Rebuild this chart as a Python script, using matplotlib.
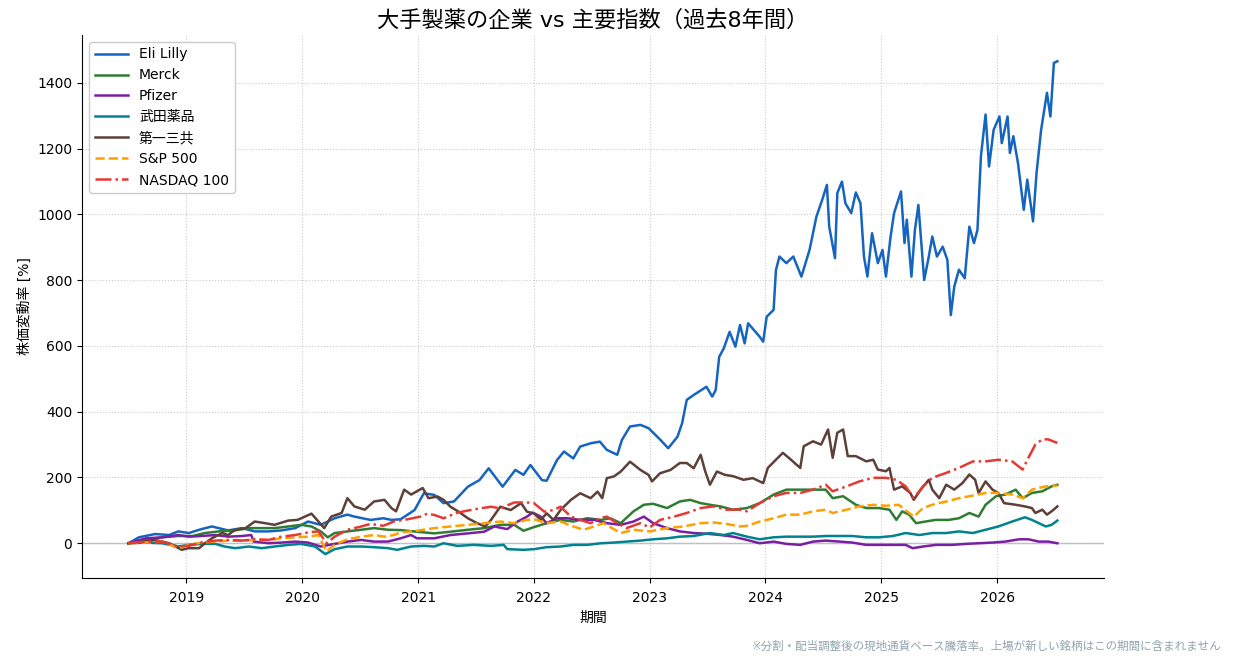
import numpy as np
import pandas as pd
import matplotlib
matplotlib.use('Agg')
import matplotlib.pyplot as plt
import matplotlib.dates as mdates

plt.rcParams['font.family'] = ['DejaVu Sans', 'Noto Sans CJK JP']

# 値は図から読み取った近似値 (x: 年の小数表記, y: 騰落率 %)
lilly_x = [2018.50, 2018.59, 2018.73, 2018.85, 2018.93, 2019.02, 2019.13, 2019.22, 2019.28, 2019.36,
           2019.48, 2019.59, 2019.71, 2019.82, 2019.94, 2020.05, 2020.16, 2020.28, 2020.39, 2020.45,
           2020.59, 2020.70, 2020.77, 2020.85, 2020.97, 2021.05, 2021.14, 2021.22, 2021.31, 2021.43,
           2021.53, 2021.61, 2021.73, 2021.84, 2021.91, 2021.97, 2022.07, 2022.11, 2022.20, 2022.26,
           2022.34, 2022.40, 2022.49, 2022.57, 2022.63, 2022.72, 2022.76, 2022.83, 2022.92, 2022.99,
           2023.08, 2023.16, 2023.24, 2023.28, 2023.32, 2023.38, 2023.49, 2023.54, 2023.57, 2023.60,
           2023.64, 2023.69, 2023.74, 2023.78, 2023.82, 2023.85, 2023.95, 2023.98, 2024.01, 2024.07,
           2024.09, 2024.12, 2024.18, 2024.24, 2024.31, 2024.38, 2024.44, 2024.49, 2024.53, 2024.55,
           2024.60, 2024.62, 2024.66, 2024.69, 2024.74, 2024.78, 2024.82, 2024.85, 2024.88, 2024.92,
           2024.97, 2025.01, 2025.04, 2025.08, 2025.11, 2025.17, 2025.20, 2025.22, 2025.26, 2025.29,
           2025.32, 2025.37, 2025.41, 2025.44, 2025.48, 2025.53, 2025.57, 2025.60, 2025.63, 2025.67,
           2025.72, 2025.76, 2025.80, 2025.83, 2025.86, 2025.90, 2025.93, 2025.97, 2026.02, 2026.04,
           2026.09, 2026.11, 2026.14, 2026.18, 2026.23, 2026.26, 2026.31, 2026.34, 2026.38, 2026.43,
           2026.46, 2026.49, 2026.52]
lilly_y = [0, 18, 28, 25, 36, 31, 43, 51, 46, 39,
           46, 36, 36, 39, 46, 66, 56, 76, 87, 81,
           71, 76, 71, 73, 101, 152, 147, 122, 127, 172,
           192, 228, 172, 223, 208, 238, 192, 190, 253, 279,
           258, 294, 304, 309, 284, 269, 314, 355, 360, 350,
           319, 289, 324, 365, 436, 451, 476, 446, 466, 567,
           593, 643, 598, 664, 608, 669, 628, 613, 689, 710,
           831, 872, 852, 872, 811, 892, 994, 1045, 1090, 963,
           867, 1065, 1100, 1034, 1004, 1067, 1034, 872, 811, 943,
           852, 892, 811, 933, 1004, 1070, 913, 984, 811, 953,
           1029, 801, 872, 933, 872, 902, 862, 694, 781, 832,
           806, 963, 913, 953, 1177, 1304, 1146, 1258, 1298, 1217,
           1298, 1187, 1238, 1156, 1014, 1106, 979, 1126, 1258, 1370,
           1298, 1461, 1466]

merck_x = [2018.50, 2018.65, 2018.79, 2018.93, 2019.05, 2019.16, 2019.28, 2019.42, 2019.54, 2019.65,
           2019.76, 2019.88, 2019.99, 2020.08, 2020.16, 2020.22, 2020.28, 2020.39, 2020.51, 2020.62,
           2020.74, 2020.85, 2020.99, 2021.14, 2021.28, 2021.43, 2021.57, 2021.71, 2021.83, 2021.91,
           2022.00, 2022.11, 2022.23, 2022.34, 2022.46, 2022.58, 2022.66, 2022.75, 2022.86, 2022.95,
           2023.03, 2023.15, 2023.26, 2023.35, 2023.44, 2023.52, 2023.61, 2023.72, 2023.84, 2023.95,
           2024.07, 2024.18, 2024.30, 2024.41, 2024.52, 2024.58, 2024.67, 2024.78, 2024.87, 2024.98,
           2025.07, 2025.13, 2025.18, 2025.24, 2025.30, 2025.38, 2025.47, 2025.58, 2025.67, 2025.76,
           2025.84, 2025.90, 2025.99, 2026.07, 2026.16, 2026.22, 2026.30, 2026.39, 2026.47, 2026.52]
merck_y = [0, 10, 18, 22, 22, 31, 36, 39, 46, 46,
           46, 51, 56, 51, 36, 18, 31, 36, 41, 46,
           41, 40, 35, 30, 35, 41, 46, 56, 56, 38,
           49, 61, 71, 66, 76, 71, 76, 61, 97, 117,
           120, 107, 127, 132, 122, 117, 112, 102, 107, 122,
           148, 163, 163, 163, 163, 137, 143, 117, 107, 107,
           102, 71, 97, 87, 61, 66, 71, 71, 76, 92,
           81, 117, 143, 148, 163, 137, 153, 158, 173, 178]

pfizer_x = [2018.50, 2018.65, 2018.79, 2018.93, 2019.02, 2019.13, 2019.25, 2019.36, 2019.48, 2019.56,
            2019.58, 2019.71, 2019.82, 2019.94, 2020.05, 2020.16, 2020.28, 2020.39, 2020.51, 2020.62,
            2020.74, 2020.85, 2020.94, 2020.99, 2021.14, 2021.28, 2021.43, 2021.57, 2021.66, 2021.77,
            2021.86, 2021.94, 2021.99, 2022.06, 2022.11, 2022.20, 2022.29, 2022.40, 2022.52, 2022.63,
            2022.75, 2022.86, 2022.95, 2023.03, 2023.15, 2023.26, 2023.38, 2023.49, 2023.61, 2023.72,
            2023.84, 2023.95, 2024.07, 2024.18, 2024.30, 2024.41, 2024.52, 2024.64, 2024.75, 2024.87,
            2024.98, 2025.10, 2025.21, 2025.27, 2025.36, 2025.47, 2025.61, 2025.73, 2025.84, 2025.96,
            2026.07, 2026.19, 2026.27, 2026.36, 2026.44, 2026.52]
pfizer_y = [0, 15, 18, 25, 20, 22, 25, 20, 22, 25,
            5, 0, 2, 5, 2, -10, -2, 5, 10, 5,
            5, 15, 25, 15, 15, 25, 30, 35, 51, 43,
            66, 81, 93, 81, 61, 76, 76, 71, 71, 61,
            56, 66, 81, 61, 46, 36, 31, 29, 25, 20,
            10, 0, 5, -2, -5, 5, 8, 5, 2, -5,
            -5, -5, -5, -15, -10, -5, -5, -2, 0, 2,
            5, 12, 12, 5, 5, 0]

takeda_x = [2018.50, 2018.65, 2018.79, 2018.93, 2019.02, 2019.13, 2019.25, 2019.33, 2019.42, 2019.54,
            2019.65, 2019.76, 2019.88, 2019.99, 2020.11, 2020.20, 2020.28, 2020.39, 2020.51, 2020.62,
            2020.74, 2020.82, 2020.94, 2021.05, 2021.14, 2021.22, 2021.34, 2021.48, 2021.63, 2021.74,
            2021.77, 2021.91, 2022.00, 2022.11, 2022.23, 2022.34, 2022.46, 2022.58, 2022.69, 2022.80,
            2022.92, 2023.03, 2023.15, 2023.26, 2023.38, 2023.52, 2023.64, 2023.72, 2023.84, 2023.95,
            2024.07, 2024.18, 2024.30, 2024.41, 2024.52, 2024.64, 2024.75, 2024.87, 2024.98, 2025.10,
            2025.21, 2025.33, 2025.44, 2025.56, 2025.67, 2025.79, 2025.90, 2026.01, 2026.13, 2026.24,
            2026.30, 2026.42, 2026.47, 2026.52]
takeda_y = [0, 2, 0, -10, -5, -2, -2, -10, -15, -10,
            -15, -10, -5, -2, -10, -33, -18, -10, -10, -12,
            -15, -20, -10, -8, -10, 0, -8, -5, -8, -5,
            -18, -20, -18, -12, -10, -5, -5, 0, 2, 5,
            8, 12, 15, 20, 22, 31, 25, 31, 20, 12,
            18, 20, 20, 20, 22, 22, 22, 18, 18, 22,
            31, 25, 31, 31, 36, 31, 41, 51, 66, 79,
            71, 51, 56, 69]

daiichi_x = [2018.50, 2018.62, 2018.73, 2018.85, 2018.96, 2019.02, 2019.11, 2019.16, 2019.22, 2019.31,
             2019.36, 2019.42, 2019.51, 2019.59, 2019.68, 2019.76, 2019.88, 2019.96, 2020.08, 2020.14,
             2020.19, 2020.25, 2020.34, 2020.39, 2020.45, 2020.54, 2020.62, 2020.71, 2020.77, 2020.81,
             2020.88, 2020.94, 2021.04, 2021.09, 2021.17, 2021.22, 2021.28, 2021.35, 2021.43, 2021.51,
             2021.58, 2021.63, 2021.71, 2021.80, 2021.89, 2021.94, 2022.00, 2022.06, 2022.11, 2022.17,
             2022.23, 2022.32, 2022.40, 2022.49, 2022.55, 2022.59, 2022.63, 2022.69, 2022.75, 2022.83,
             2022.92, 2022.99, 2023.02, 2023.09, 2023.18, 2023.26, 2023.32, 2023.38, 2023.44, 2023.48,
             2023.52, 2023.58, 2023.65, 2023.72, 2023.81, 2023.89, 2023.98, 2024.02, 2024.09, 2024.15,
             2024.22, 2024.30, 2024.33, 2024.41, 2024.48, 2024.54, 2024.58, 2024.62, 2024.67, 2024.71,
             2024.78, 2024.87, 2024.93, 2024.97, 2025.04, 2025.07, 2025.11, 2025.18, 2025.25, 2025.28,
             2025.34, 2025.41, 2025.44, 2025.50, 2025.56, 2025.63, 2025.70, 2025.76, 2025.81, 2025.84,
             2025.90, 2025.96, 2026.01, 2026.06, 2026.16, 2026.24, 2026.30, 2026.33, 2026.39, 2026.43,
             2026.47, 2026.52]
daiichi_y = [0, 5, 10, 0, -20, -15, -15, 0, 15, 31,
             25, 41, 46, 66, 61, 56, 69, 71, 90, 66,
             46, 81, 92, 137, 112, 102, 127, 132, 107, 97,
             163, 148, 168, 137, 142, 132, 111, 96, 76, 61,
             51, 71, 111, 101, 122, 96, 91, 71, 91, 71,
             101, 132, 152, 137, 157, 137, 198, 203, 218, 248,
             223, 208, 188, 213, 223, 244, 244, 228, 269, 218,
             178, 218, 208, 204, 193, 198, 183, 229, 254, 275,
             254, 229, 295, 310, 300, 346, 260, 336, 346, 265,
             265, 249, 254, 224, 219, 229, 163, 173, 153, 132,
             163, 193, 163, 137, 178, 163, 183, 209, 193, 153,
             188, 163, 153, 122, 117, 112, 107, 92, 102, 87,
             97, 112]

sp500_x = [2018.50, 2018.65, 2018.79, 2018.93, 2019.02, 2019.13, 2019.25, 2019.36, 2019.48, 2019.59,
           2019.71, 2019.82, 2019.94, 2020.05, 2020.14, 2020.21, 2020.28, 2020.39, 2020.51, 2020.62,
           2020.71, 2020.79, 2020.85, 2020.99, 2021.14, 2021.28, 2021.43, 2021.57, 2021.71, 2021.83,
           2021.94, 2022.00, 2022.11, 2022.23, 2022.34, 2022.43, 2022.52, 2022.60, 2022.75, 2022.86,
           2023.00, 2023.15, 2023.29, 2023.44, 2023.55, 2023.66, 2023.78, 2023.84, 2023.95, 2024.07,
           2024.18, 2024.30, 2024.41, 2024.52, 2024.58, 2024.70, 2024.81, 2024.93, 2025.04, 2025.15,
           2025.24, 2025.28, 2025.36, 2025.44, 2025.56, 2025.67, 2025.79, 2025.90, 2026.01, 2026.13,
           2026.22, 2026.30, 2026.42, 2026.52]
sp500_y = [0, 2, 5, -15, -5, 2, 5, 8, 8, 10,
           10, 15, 18, 20, 25, -25, -5, 12, 20, 25,
           20, 25, 33, 38, 46, 51, 56, 61, 66, 61,
           71, 73, 61, 66, 51, 41, 51, 61, 31, 41,
           36, 46, 51, 61, 63, 59, 51, 53, 66, 76,
           87, 87, 97, 102, 92, 102, 112, 117, 114, 117,
           92, 81, 107, 117, 127, 137, 145, 153, 153, 148,
           137, 163, 173, 175]

nasdaq_x = [2018.50, 2018.65, 2018.79, 2018.93, 2019.02, 2019.13, 2019.25, 2019.36, 2019.48, 2019.59,
            2019.71, 2019.82, 2019.94, 2020.05, 2020.14, 2020.21, 2020.28, 2020.39, 2020.51, 2020.59,
            2020.70, 2020.79, 2020.91, 2021.02, 2021.08, 2021.14, 2021.22, 2021.34, 2021.48, 2021.63,
            2021.71, 2021.83, 2021.94, 2022.00, 2022.09, 2022.17, 2022.23, 2022.32, 2022.40, 2022.49,
            2022.57, 2022.63, 2022.72, 2022.80, 2022.92, 2023.00, 2023.09, 2023.21, 2023.32, 2023.44,
            2023.55, 2023.66, 2023.78, 2023.84, 2023.95, 2024.07, 2024.18, 2024.30, 2024.41, 2024.52,
            2024.58, 2024.70, 2024.81, 2024.93, 2025.04, 2025.13, 2025.21, 2025.28, 2025.36, 2025.44,
            2025.56, 2025.67, 2025.79, 2025.90, 2026.01, 2026.13, 2026.22, 2026.27, 2026.33, 2026.39,
            2026.44, 2026.52]
nasdaq_y = [0, 5, 5, -10, -8, 2, 8, 10, 8, 12,
            10, 20, 25, 33, 36, 0, 20, 41, 51, 59,
            53, 66, 73, 81, 90, 86, 76, 93, 103, 111,
            106, 124, 124, 122, 96, 101, 111, 81, 71, 61,
            76, 81, 61, 46, 61, 48, 71, 81, 92, 107,
            112, 102, 102, 97, 122, 143, 153, 153, 163, 178,
            158, 173, 188, 199, 199, 193, 173, 137, 173, 199,
            214, 229, 249, 249, 254, 249, 224, 260, 300, 316,
            316, 305]

names = ['Eli Lilly', 'Merck', 'Pfizer', '武田薬品', '第一三共', 'S&P 500', 'NASDAQ 100']
colors = ['#1565C0', '#2E7D32', '#7B1FA2', '#00838F', '#5D4037', '#FFA000', '#E53935']
styles = ['-', '-', '-', '-', '-', '--', '-.']


def to_dates(years):
    years = np.asarray(years, dtype=float)
    return pd.to_datetime('2018-01-01') + pd.to_timedelta((years - 2018) * 365.25, unit='D')


series = [(lilly_x, lilly_y), (merck_x, merck_y), (pfizer_x, pfizer_y), (takeda_x, takeda_y),
          (daiichi_x, daiichi_y), (sp500_x, sp500_y), (nasdaq_x, nasdaq_y)]

fig = plt.figure(figsize=(12.34, 6.66), dpi=100)
ax = fig.add_axes([0.0665, 0.132, 0.828, 0.8155])

for (xs, ys), name, c, ls in zip(series, names, colors, styles):
    ax.plot(to_dates(xs), ys, color=c, linestyle=ls, linewidth=1.8, label=name)

ax.axhline(0, color='#b0bcc5', linewidth=1.0, zorder=0)
ax.set_ylim(-106, 1546)
ax.set_yticks(range(0, 1401, 200))
ax.xaxis.set_major_locator(mdates.YearLocator())
ax.xaxis.set_major_formatter(mdates.DateFormatter('%Y'))
ax.grid(True, linestyle=':', color='#cccccc', linewidth=0.8)
ax.spines['top'].set_visible(False)
ax.spines['right'].set_visible(False)
ax.tick_params(labelsize=10)
ax.tick_params(axis='x', pad=6)

ax.set_title('大手製薬の企業 vs 主要指数（過去8年間）', fontsize=16, pad=6)
ax.set_xlabel('期間', fontsize=10)
ax.set_ylabel('株価変動率 [%]', fontsize=10)
ax.legend(loc='upper left', fontsize=10, framealpha=1, edgecolor='#cccccc', handlelength=2.4)

fig.text(0.99, 0.02, '※分割・配当調整後の現地通貨ベース騰落率。上場が新しい銘柄はこの期間に含まれません',
         ha='right', va='bottom', fontsize=8.3, color='#90a4ae')

fig.savefig('out.png', dpi=100)
